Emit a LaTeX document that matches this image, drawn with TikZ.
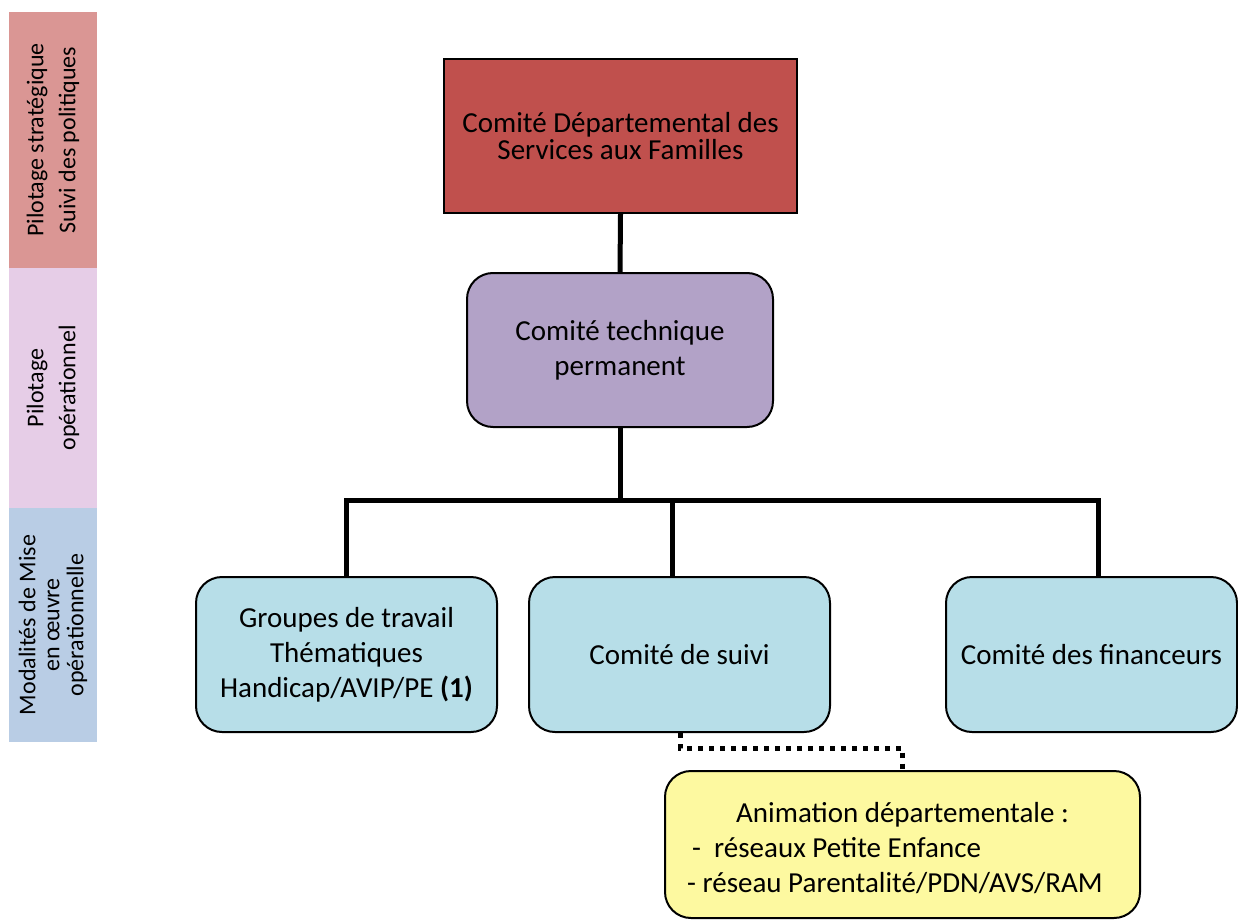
\documentclass[tikz,border=0pt]{standalone}
\usepackage{fontspec}
\setmainfont{Carlito}
\usetikzlibrary{positioning}
\definecolor{topred}{HTML}{C0504D}
\definecolor{techpurple}{HTML}{B2A2C7}
\definecolor{boxcyan}{HTML}{B7DEE8}
\definecolor{boxyellow}{HTML}{FDF9A0}
\definecolor{siderred}{HTML}{DA9694}
\definecolor{sidepink}{HTML}{E6CDE7}
\definecolor{sideblue}{HTML}{B9CDE5}
\tikzset{
  x=1pt, y=-1pt,
  box/.style={draw=black, line width=2pt, inner sep=0pt, align=center,
    font=\fontsize{29}{35}\selectfont},
  rbox/.style={box, rounded corners=26pt},
  sidebar/.style={inner sep=0pt, align=center, rotate=90,
    font=\fontsize{24}{32}\selectfont},
  conn/.style={line width=5pt, line cap=rect},
  dotline/.style={line width=5pt, dash pattern=on 5pt off 6pt},
  ytext/.style={inner sep=0pt, anchor=base west, font=\fontsize{29}{35}\selectfont},
}
\begin{document}
\begin{tikzpicture}
\useasboundingbox (0,0) rectangle (1238,920);
% side bars
\node[sidebar, fill=siderred, minimum width=256pt, minimum height=88pt] (s1) at (53,140)
  {Pilotage stratégique\\Suivi des politiques};
\node[sidebar, fill=sidepink, minimum width=240pt, minimum height=88pt] (s2) at (53,388)
  {Pilotage\\opérationnel};
\node[sidebar, fill=sideblue, minimum width=234pt, minimum height=88pt,
  font=\fontsize{24}{24}\selectfont] (s3) at (53,625)
  {Modalités de Mise\\en œuvre\\opérationnelle};
% boxes
\node[box, fill=topred, minimum width=353pt, minimum height=154pt,
  font=\fontsize{29}{27}\selectfont] (cd) at (620.5,136)
  {Comité Départemental des\\Services aux Familles};
\node[rbox, fill=techpurple, minimum width=306pt, minimum height=154pt] (tech) at (620,350)
  {Comité technique\\permanent};
\node[rbox, fill=boxcyan, minimum width=301pt, minimum height=155pt] (grp) at (346.5,654.5)
  {Groupes de travail\\Thématiques\\Handicap/AVIP/PE \textbf{(1)}};
\node[rbox, fill=boxcyan, minimum width=301pt, minimum height=155pt] (suivi) at (679.5,654.5)
  {Comité de suivi};
\node[rbox, fill=boxcyan, minimum width=291pt, minimum height=155pt] (fin) at (1091.5,654.5)
  {Comité des financeurs};
\node[rbox, fill=boxyellow, minimum width=475pt, minimum height=147pt] (anim) at (902.5,844.5) {};
\node[inner sep=0pt, anchor=base, font=\fontsize{29}{35}\selectfont] (a1) at (902.5,822) {Animation départementale :};
\node[ytext] (a2) at (692,857) {-\ \ réseaux Petite Enfance};
\node[ytext] (a3) at (687,892) {- réseau Parentalité/PDN/AVS/RAM};
% connectors
\coordinate (bus) at (620,500);
\coordinate (busL) at (346,500);
\coordinate (busM) at (672,500);
\coordinate (busR) at (1098,500);
\coordinate (dk) at (680,748);
\draw[line width=5pt] (cd.south) -- (tech.north);
\draw[line width=5pt] (tech.south) -- (bus);
\draw[line width=5pt, line join=miter] (grp.north -| busL) -- (busL) -- (busR) -- (busR |- fin.north);
\draw[line width=5pt] (busM) -- (busM |- suivi.north);
\draw[dotline] (suivi.south -| dk) -- (dk) -| (anim.north);
\end{tikzpicture}
\end{document}
